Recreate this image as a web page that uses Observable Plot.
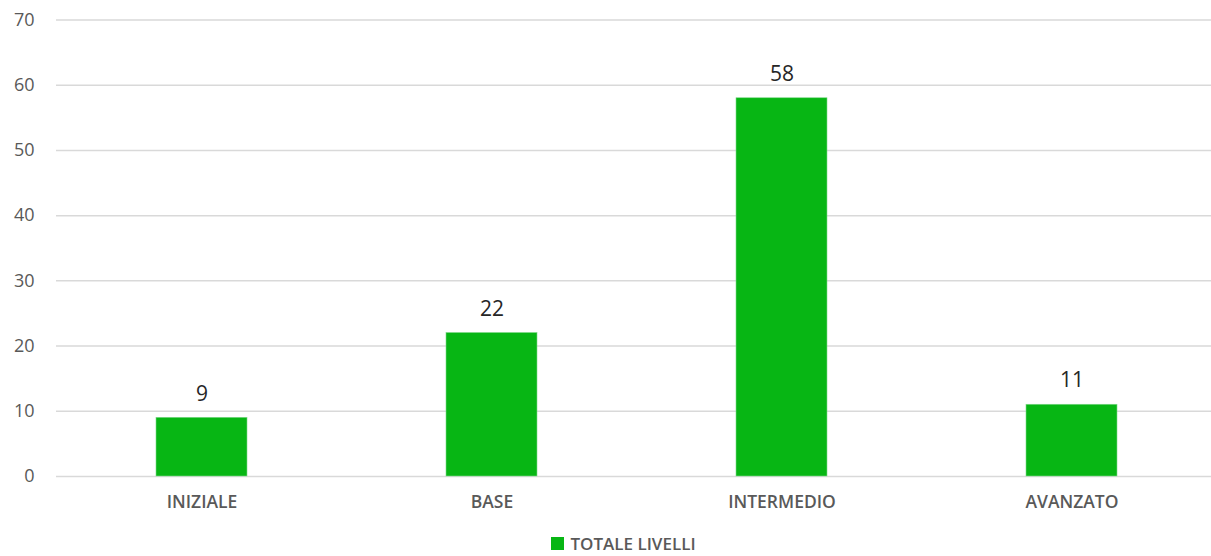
<!DOCTYPE html>
<html>
<head>
<meta charset="utf-8">
<script src="https://cdn.jsdelivr.net/npm/d3@7"></script>
<script src="https://cdn.jsdelivr.net/npm/@observablehq/plot@0.6"></script>
<style>
  body { margin: 0; background: #fff; font-family: "Open Sans", sans-serif; overflow: hidden; }
  #legend { height: 23px; line-height: 23px; margin-top: 4px; display: flex; align-items: center; justify-content: center; padding-left: 36px; color: #595959; font-size: 17px; font-weight: 600; }
  #legend .sw { width: 13px; height: 13px; background: #07b614; margin-right: 6px; display: inline-block; }
</style>
</head>
<body>
<div id="chart"></div>
<div id="legend"><span class="sw"></span><span>TOTALE LIVELLI</span></div>
<script>
const categories = ["INIZIALE", "BASE", "INTERMEDIO", "AVANZATO"];
const values = [9, 22, 58, 11];
const yTicks = [0, 10, 20, 30, 40, 50, 60, 70];
const seriesName = "TOTALE LIVELLI";

const data = categories.map((c, i) => ({ category: c, value: values[i], series: seriesName }));

const chart = Plot.plot({
  width: 1211,
  height: 528,
  marginTop: 19.5,
  marginBottom: 52,
  marginLeft: 56,
  marginRight: 0,
  style: { fontFamily: "Open Sans, sans-serif", background: "#fff", display: "block" },
  x: { domain: categories, range: [56.5, 1216.5], paddingInner: 0.686, paddingOuter: 0.343, label: null },
  y: { domain: [0, 70], ticks: yTicks, label: null },
  marks: [
    Plot.ruleY(yTicks, { stroke: "#d9d9d9", strokeWidth: 1.5 }),
    Plot.barY(data, { x: "category", y: "value", fill: "#07b614", stroke: "#7fd98a", strokeWidth: 0.6 }),
    Plot.text(data, { x: "category", y: "value", text: d => String(d.value), dy: -24, fill: "#262626", fontSize: 21 }),
    Plot.axisY({ ticks: yTicks, tickSize: 0, tickPadding: 0, dx: -22, textAnchor: "end", fill: "#595959", fontSize: 18, label: null }),
    Plot.axisX({ tickSize: 0, tickPadding: 19, fill: "#595959", fontSize: 17.5, fontWeight: 600, label: null })
  ]
});
document.getElementById("chart").appendChild(chart);
</script>
</body>
</html>
